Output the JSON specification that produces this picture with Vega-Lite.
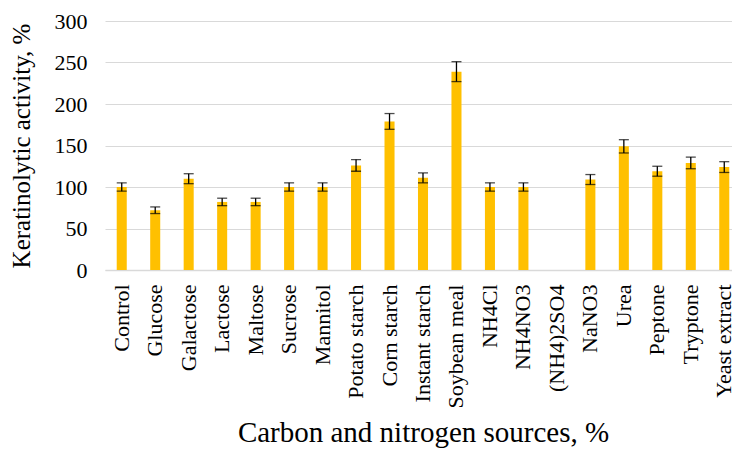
{
  "$schema": "https://vega.github.io/schema/vega-lite/v6.json",
  "autosize": {"type": "none"},
  "padding": {"left": 105, "top": 21, "right": 0, "bottom": 179},
  "width": 636,
  "height": 249,
  "config": {
    "font": "Liberation Serif",
    "view": {"stroke": null},
    "axis": {"labelColor": "#000000", "titleColor": "#000000", "titleFontWeight": "normal", "labelFont": "Liberation Serif", "titleFont": "Liberation Serif"}
  },
  "data": {
    "values": [
      {"source": "Control", "activity": 100, "lo": 95, "hi": 105},
      {"source": "Glucose", "activity": 72, "lo": 68, "hi": 76},
      {"source": "Galactose", "activity": 110, "lo": 104, "hi": 116},
      {"source": "Lactose", "activity": 82, "lo": 77.5, "hi": 86.5},
      {"source": "Maltose", "activity": 82, "lo": 77.5, "hi": 86.5},
      {"source": "Sucrose", "activity": 100, "lo": 95, "hi": 105},
      {"source": "Mannitol", "activity": 100, "lo": 95, "hi": 105},
      {"source": "Potato starch", "activity": 126, "lo": 119, "hi": 133},
      {"source": "Corn starch", "activity": 179, "lo": 169.5, "hi": 188.5},
      {"source": "Instant starch", "activity": 111, "lo": 105, "hi": 117},
      {"source": "Soybean meal", "activity": 239, "lo": 227, "hi": 251},
      {"source": "NH4Cl", "activity": 100, "lo": 95, "hi": 105},
      {"source": "NH4NO3", "activity": 100, "lo": 95, "hi": 105},
      {"source": "(NH4)2SO4", "activity": 0, "lo": 0, "hi": 0},
      {"source": "NaNO3", "activity": 109, "lo": 103, "hi": 115},
      {"source": "Urea", "activity": 149, "lo": 141, "hi": 157},
      {"source": "Peptone", "activity": 119, "lo": 113, "hi": 125},
      {"source": "Tryptone", "activity": 129, "lo": 122, "hi": 136},
      {"source": "Yeast extract", "activity": 124, "lo": 117.5, "hi": 130.5}
    ]
  },
  "encoding": {
    "x": {
      "field": "source", "type": "nominal", "sort": null,
      "scale": {"paddingInner": 0.7, "paddingOuter": 0.35},
      "axis": {
        "title": "Carbon and nitrogen sources, %",
        "titleFontSize": 29, "titlePadding": 10,
        "labelAngle": -90, "labelFontSize": 22, "labelPadding": 14,
        "ticks": false, "domainColor": "#d9d9d9", "domainWidth": 1.5
      }
    }
  },
  "layer": [
    {
      "mark": {"type": "bar", "color": "#FFC000"},
      "encoding": {
        "y": {
          "field": "activity", "type": "quantitative",
          "scale": {"domain": [0, 300]},
          "axis": {
            "title": "Keratinolytic activity, %",
            "titleFontSize": 25, "titlePadding": 20,
            "labelFontSize": 22, "labelPadding": 18,
            "values": [0, 50, 100, 150, 200, 250, 300],
            "ticks": false, "domain": false,
            "gridColor": "#d9d9d9", "gridWidth": 1.2
          }
        }
      }
    },
    {
      "transform": [{"filter": "datum.activity > 0"}],
      "mark": {"type": "rule", "color": "#000000", "strokeWidth": 1.3},
      "encoding": {
        "y": {"field": "lo", "type": "quantitative"},
        "y2": {"field": "hi"}
      }
    },
    {
      "transform": [{"filter": "datum.activity > 0"}],
      "mark": {"type": "tick", "color": "#000000", "size": 10, "thickness": 1.3, "orient": "horizontal"},
      "encoding": {"y": {"field": "lo", "type": "quantitative"}}
    },
    {
      "transform": [{"filter": "datum.activity > 0"}],
      "mark": {"type": "tick", "color": "#000000", "size": 10, "thickness": 1.3, "orient": "horizontal"},
      "encoding": {"y": {"field": "hi", "type": "quantitative"}}
    }
  ]
}
